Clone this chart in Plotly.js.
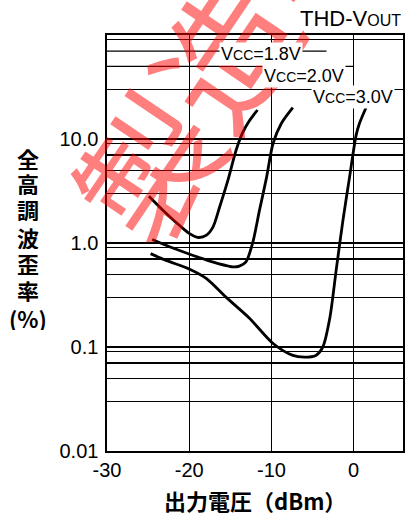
<!DOCTYPE html>
<html>
<head>
<meta charset="utf-8">
<script src="https://cdn.plot.ly/plotly-3.0.1.min.js"></script>
<style>html,body{margin:0;padding:0;background:#fff;}#chart{width:406px;height:515px;}</style>
</head>
<body>
<div id="chart"></div>
<script>
// ---- data ----
const x18 = [-24.9, -23.2, -21.2, -19.95, -18.9, -17.9, -17.1, -16.3, -15.3, -14.3, -13.5, -12.8, -11.7];
const y18 = [2.82, 2.07, 1.48, 1.23, 1.13, 1.19, 1.43, 2.22, 4.0, 7.8, 11.5, 14.5, 19];

const x20 = [-24.5, -22.4, -19.95, -17.5, -14.7, -13.9, -13.1, -12.3, -11.45, -10.6, -9.8, -8.8, -7.4];
const y20 = [1.08, 0.92, 0.78, 0.67, 0.59, 0.60, 0.66, 0.99, 2.07, 4.25, 9.1, 14.1, 20];

const x30 = [-24.7, -22.8, -19.95, -17.9, -15.5, -12.7, -9.8, -7.4, -6.0, -4.6, -3.75, -2.9, -2.1, -1.3, -0.5, 0.3, 0.7, 1.5];
const y30 = [0.79, 0.68, 0.56, 0.455, 0.30, 0.19, 0.108, 0.083, 0.080, 0.083, 0.10, 0.19, 0.57, 1.66, 4.3, 10.9, 14.1, 20];

const xTicks = [-30, -20, -10, 0];
const yDecades = [0.01, 0.1, 1, 10];
const yDecadeText = ['0.01', '0.1', '1.0', '10.0'];
const yMinor = [0.03, 0.05, 0.07, 0.09, 0.3, 0.5, 0.7, 0.9, 3, 5, 7, 9, 30, 90];
const yPartial = [70, 50];          // grid lines that stop at the labels
const yPartialEnd = [-3.3, 0];

const seriesNames = ['V<span style="font-size:14px">CC</span>=1.8V',
                     'V<span style="font-size:14px">CC</span>=2.0V',
                     'V<span style="font-size:14px">CC</span>=3.0V'];
const yTitleChars = ['全', '高', '調', '波', '歪', '率', '(%)'];

// ---- build ----
const latin = '"Liberation Sans", Arial, Helvetica, sans-serif';
const cjk = '"Noto Sans CJK JP", "Liberation Sans", sans-serif';
const lineStyle = {color: '#000', width: 2.8, shape: 'spline', smoothing: 0.8};

const traces = [[x18, y18], [x20, y20], [x30, y30]].map(([x, y], i) => ({
  x: x, y: y, type: 'scatter', mode: 'lines', line: lineStyle,
  name: seriesNames[i], showlegend: false, hoverinfo: 'skip'
}));

const tickvals = yDecades.concat(yMinor);
const ticktext = yDecadeText.concat(yMinor.map(() => ''));

const H = 515, T = 35, B = 64;
const plotH = H - T - B;
const py2paper = py => (H - B - py) / plotH;
const px2paper = px => (px - 107) / 296;
const logPaper = v => (Math.log10(v) + 2) / 4;

const shapes = yPartial.map((v, i) => ({
  type: 'line', xref: 'x', yref: 'paper', x0: -30, x1: yPartialEnd[i],
  y0: logPaper(v), y1: logPaper(v), line: {color: '#000', width: 1.3}, layer: 'below'
}));

const annotations = [];
// watermark
annotations.push({
  text: '製造中止', xref: 'paper', yref: 'paper', x: px2paper(258), y: py2paper(-6),
  xanchor: 'center', yanchor: 'middle', showarrow: false, textangle: -56,
  font: {family: cjk, size: 137, color: 'rgba(255,0,0,0.5)'}
});
// series labels
const labelPos = [[-11.3, 53.5], [-6.1, 76], [-0.14, 97]];
labelPos.forEach((p, i) => {
  annotations.push({
    text: seriesNames[i], xref: 'x', yref: 'paper', x: p[0], y: py2paper(p[1]),
    xanchor: 'center', yanchor: 'middle', showarrow: false, bgcolor: '#fff',
    borderpad: 1, font: {family: latin, size: 18, color: '#000'}
  });
});
// top-right title
annotations.push({
  text: 'THD-V<span style="font-size:16px">OUT</span>', xref: 'paper', yref: 'paper',
  x: 1, y: py2paper(18), xanchor: 'right', yanchor: 'middle', showarrow: false,
  font: {family: latin, size: 22, color: '#000'}
});
// vertical y title
const yCharPy = [158, 183, 209, 236.5, 263, 290, 318];
yTitleChars.forEach((c, i) => {
  annotations.push({
    text: '<b>' + c + '</b>', xref: 'paper', yref: 'paper',
    x: px2paper(28), y: py2paper(yCharPy[i]), xanchor: 'center', yanchor: 'middle',
    height: 24, borderpad: 0,
    showarrow: false, font: {family: cjk, size: 22, color: '#000'}
  });
});
// x title
annotations.push({
  text: '<b>出力電圧（dBm）</b>', xref: 'paper', yref: 'paper',
  x: 0.5, y: py2paper(500), xanchor: 'center', yanchor: 'middle', showarrow: false,
  font: {family: cjk, size: 22, color: '#000'}
});

const layout = {
  width: 406, height: 515,
  margin: {l: 107, r: 3, t: T, b: B, pad: 0},
  paper_bgcolor: '#fff', plot_bgcolor: '#fff',
  showlegend: false,
  xaxis: {
    range: [-30, 6], tickvals: xTicks, ticktext: xTicks.map(String),
    showgrid: true, gridcolor: '#000', gridwidth: 1.3, zeroline: false,
    showline: true, mirror: true, linecolor: '#000', linewidth: 1.6,
    ticks: '', ticklabelstandoff: 0,
    tickfont: {family: latin, size: 20, color: '#000'}, fixedrange: true
  },
  yaxis: {
    type: 'log', range: [-2, 2], tickvals: tickvals, ticktext: ticktext,
    showgrid: true, gridcolor: '#000', gridwidth: 1.3, zeroline: false,
    showline: true, mirror: true, linecolor: '#000', linewidth: 1.6,
    ticks: '', ticklabelstandoff: 3,
    tickfont: {family: latin, size: 20, color: '#000'}, fixedrange: true
  },
  shapes: shapes,
  annotations: annotations
};

Plotly.newPlot('chart', traces, layout, {staticPlot: true, displayModeBar: false});
</script>
</body>
</html>
